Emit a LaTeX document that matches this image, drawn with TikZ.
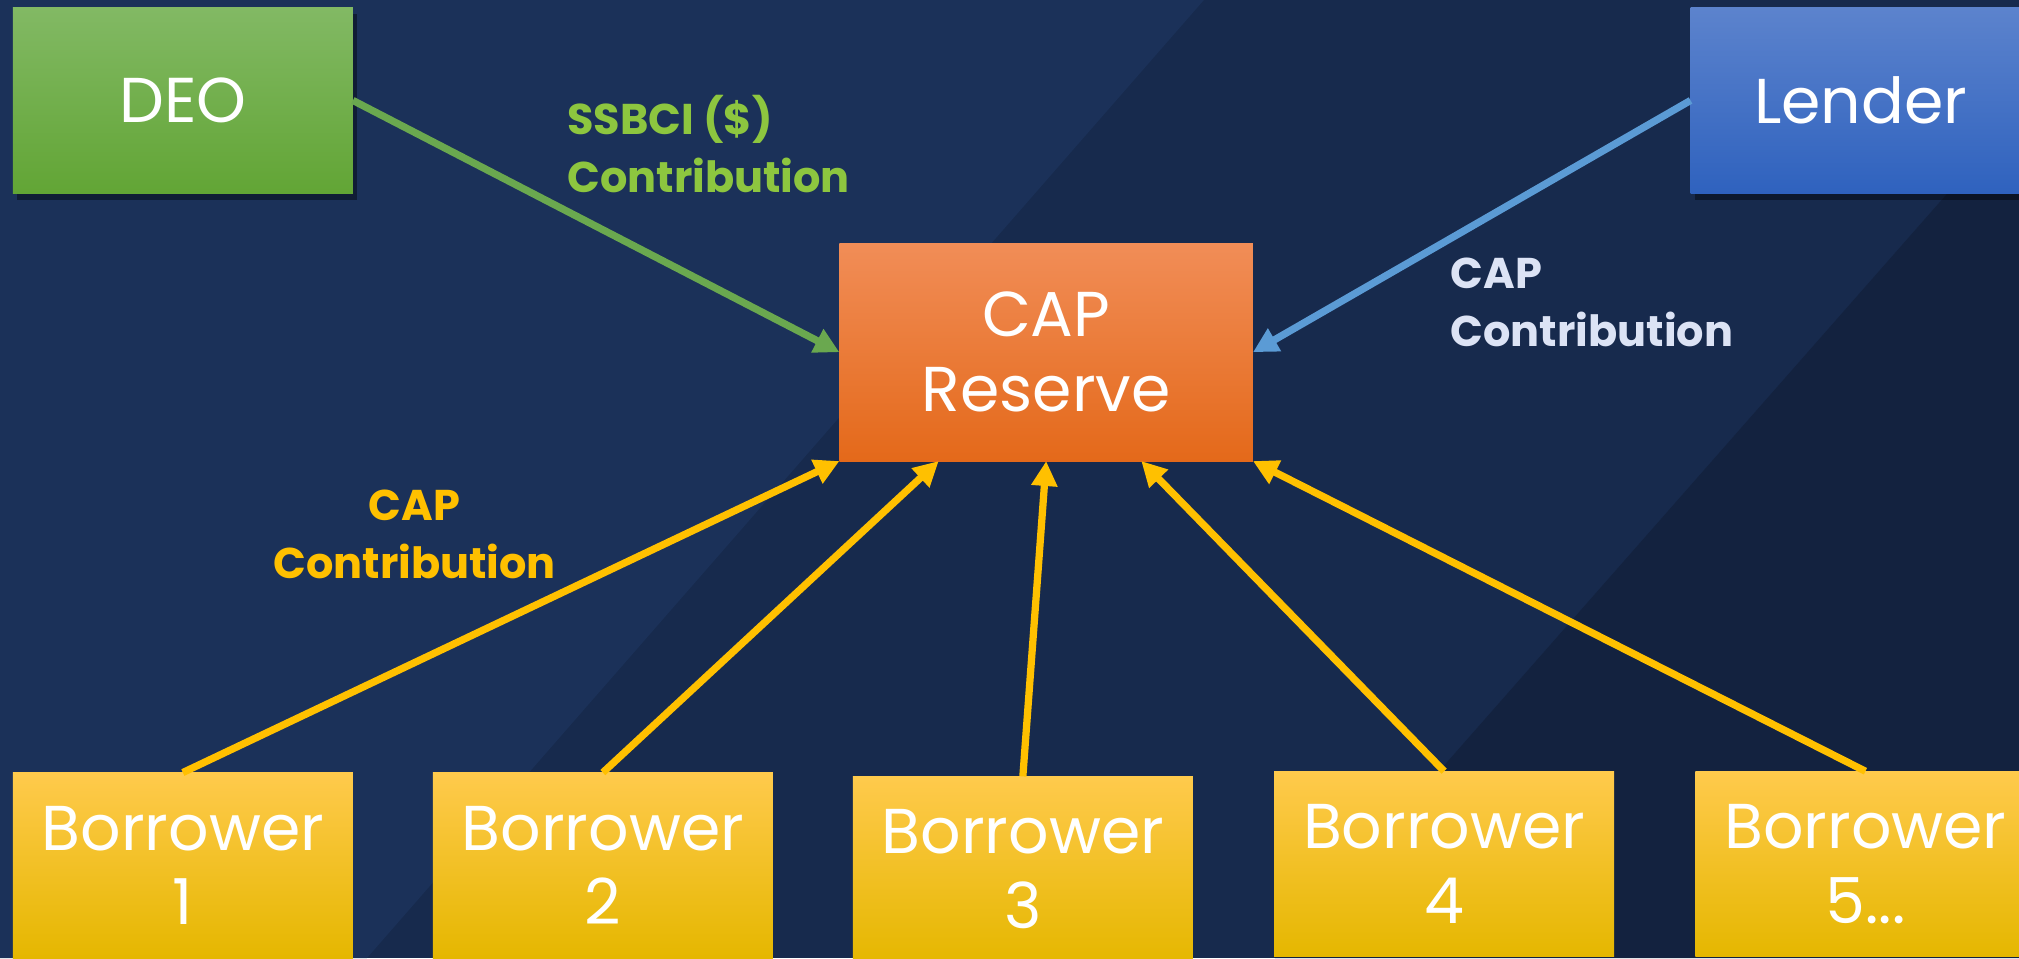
\documentclass[tikz,border=0pt]{standalone}
\usepackage{fontspec}
\setmainfont{Poppins}
\usepackage{tikz}
\usetikzlibrary{arrows.meta, positioning, shadows, calc}
\definecolor{bgleft}{HTML}{1B3159}
\definecolor{bgmid}{HTML}{172A4D}
\definecolor{bgright}{HTML}{13223F}
\definecolor{deotop}{HTML}{82B964}
\definecolor{deobot}{HTML}{62A535}
\definecolor{lendtop}{HTML}{5C83CD}
\definecolor{lendbot}{HTML}{2F62BE}
\definecolor{captop}{HTML}{F18D57}
\definecolor{capbot}{HTML}{E4691A}
\definecolor{borrtop}{HTML}{FFCA4C}
\definecolor{borrmid}{HTML}{FFC800}
\definecolor{borrbot}{HTML}{E5B700}
\definecolor{deoline}{HTML}{6AA84F}
\definecolor{deotext}{HTML}{8DC63F}
\definecolor{lendline}{HTML}{5B9BD5}
\definecolor{lendtext}{HTML}{DCE3F5}
\definecolor{borrline}{HTML}{FFC000}
\tikzset{
    box/.style={rectangle, minimum width=2.64cm, minimum height=1.44cm, inner sep=0pt, outer sep=0pt, text=white, align=center, font=\fontsize{14}{16.5}\selectfont},
    deobox/.style={box, top color=deotop, bottom color=deobot, drop shadow={shadow xshift=1pt, shadow yshift=-1.5pt, fill=black, opacity=0.4}},
    lendbox/.style={box, top color=lendtop, bottom color=lendbot, drop shadow={shadow xshift=1pt, shadow yshift=-1.5pt, fill=black, opacity=0.4}},
    capbox/.style={box, minimum width=3.21cm, minimum height=1.69cm, top color=captop, bottom color=capbot},
    borrbox/.style={box, top color=borrtop, middle color=borrmid, bottom color=borrbot},
    lbl/.style={inner sep=0pt, font=\fontsize{9.5}{12.8}\selectfont\bfseries},
    arr/.style={-{Triangle[length=5.5pt, width=5.5pt]}, line width=1.6pt},
}
\begin{document}
\begin{tikzpicture}[x=0.01cm, y=-0.01cm]
    \clip (0,0) rectangle (1568,744);
    % Background bands
    \fill [bgmid] (0,0) rectangle (1568,744);
    \fill [bgleft] (0,0) -- (935,0) -- (285,744) -- (0,744) -- cycle;
    \fill [bgright] (1568,87) -- (990,744) -- (1568,744) -- cycle;
    % Top row: sources
    \node [deobox] (deo) at (142,78) {DEO};
    \node [lendbox] (lender) at (1445,78) {Lender};
    % Reserve
    \node [capbox] (cap) at (812.5,273.5) {CAP\\Reserve};
    % Bottom row: borrowers
    \node [borrbox] (b1) at (142,672) {Borrower\\1};
    \node [borrbox, right=0.62cm of b1] (b2) {Borrower\\2};
    \node [borrbox, right=0.62cm of b2, yshift=-0.03cm] (b3) {Borrower\\3};
    \node [borrbox, right=0.63cm of b3, yshift=0.04cm] (b4) {Borrower\\4};
    \node [borrbox, right=0.63cm of b4] (b5) {Borrower\\5...};
    % Contributions
    \draw [arr, deoline] (deo.east) -- (cap.west);
    \draw [arr, lendline] (lender.west) -- (cap.east);
    \draw [arr, borrline] (b1.north) -- (cap.south west);
    \draw [arr, borrline] (b2.north) -- ($(cap.south west)!0.24!(cap.south east)$);
    \draw [arr, borrline] (b3.north) -- (cap.south);
    \draw [arr, borrline] (b4.north) -- ($(cap.south west)!0.73!(cap.south east)$);
    \draw [arr, borrline] (b5.north) -- (cap.south east);
    % Labels
    \node [lbl, text=deotext, anchor=west, align=left] (deolbl) at (440,112) {SSBCI (\$)\\Contribution};
    \node [lbl, text=lendtext, anchor=west, align=left] (lendlbl) at (1126,235) {CAP\\Contribution};
    \node [lbl, text=borrline, align=center] (borrlbl) at (322,415) {CAP\\Contribution};
\end{tikzpicture}
\end{document}
